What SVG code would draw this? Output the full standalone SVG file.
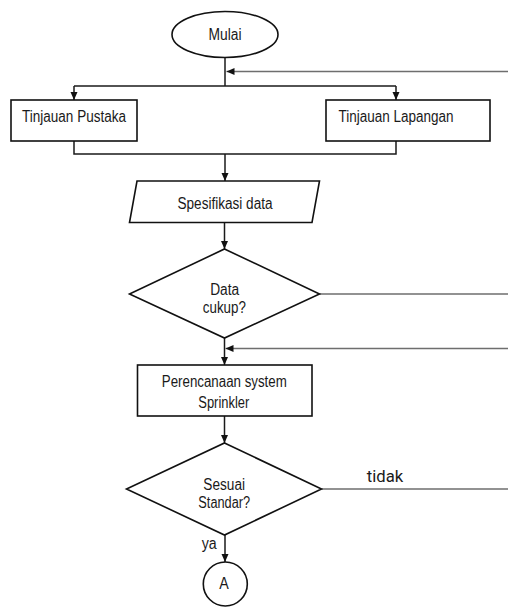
<svg xmlns="http://www.w3.org/2000/svg" width="508" height="607" viewBox="0 0 508 607">
<style>
.shape{fill:#fff;stroke:#111;stroke-width:1.6}
.conn{fill:none;stroke:#1a1a1a;stroke-width:1.5}
.back{fill:none;stroke:#6e6e6e;stroke-width:1.6}
.t{font-family:"Liberation Sans",Arial,sans-serif;font-size:16px;fill:#1a1a1a;text-anchor:middle}
.lbl{font-family:Roboto,"Liberation Sans",sans-serif;font-size:16.5px;fill:#1a1a1a;text-anchor:middle}
</style>
<defs>
<marker id="arr" markerUnits="userSpaceOnUse" markerWidth="9" markerHeight="8" refX="8" refY="3.5" orient="auto">
<path d="M0,0 L8,3.5 L0,7 z" fill="#111"/>
</marker>
</defs>
<g id="connectors">
<path class="conn" d="M225,57 V86"/>
<path class="back" d="M508,71.5 H226.5" marker-end="url(#arr)"/>
<path class="conn" d="M74,86 H396"/>
<path class="conn" d="M74,86 V100" marker-end="url(#arr)"/>
<path class="conn" d="M396,86 V100" marker-end="url(#arr)"/>
<path class="conn" d="M74,141 V154 H396 V141"/>
<path class="conn" d="M225,154 V181" marker-end="url(#arr)"/>
<path class="conn" d="M224.5,222.5 V249" marker-end="url(#arr)"/>
<path class="back" d="M319.5,294 H508"/>
<path class="conn" d="M224.5,338 V365" marker-end="url(#arr)"/>
<path class="back" d="M508,348.5 H225.5" marker-end="url(#arr)"/>
<path class="conn" d="M224.5,416 V443" marker-end="url(#arr)"/>
<path class="back" d="M321.5,489 H508"/>
<path class="conn" d="M225,535 V562" marker-end="url(#arr)"/>
<text class="lbl" x="385" y="481.5" textLength="36.5" lengthAdjust="spacingAndGlyphs">tidak</text>
<text class="t" x="209.2" y="548.5" textLength="15" lengthAdjust="spacingAndGlyphs">ya</text>
</g>
<g id="mulai">
<ellipse class="shape" cx="225" cy="34.5" rx="53" ry="23"/>
<text class="t" x="225" y="39.5" textLength="33" lengthAdjust="spacingAndGlyphs">Mulai</text>
</g>
<g id="tinjauan-pustaka">
<rect class="shape" x="11" y="100" width="126" height="41"/>
<text class="t" x="74" y="122" textLength="104" lengthAdjust="spacingAndGlyphs">Tinjauan Pustaka</text>
</g>
<g id="tinjauan-lapangan">
<rect class="shape" x="326" y="100" width="164" height="41"/>
<text class="t" x="396" y="122" textLength="115" lengthAdjust="spacingAndGlyphs">Tinjauan Lapangan</text>
</g>
<g id="spesifikasi-data">
<polygon class="shape" points="137,181 319.5,181 312,222.5 129.5,222.5"/>
<text class="t" x="225" y="209" textLength="95" lengthAdjust="spacingAndGlyphs">Spesifikasi data</text>
</g>
<g id="data-cukup">
<polygon class="shape" points="224.5,249 319.5,294 224.5,338 129.5,294"/>
<text class="t" x="224.7" y="295" textLength="29" lengthAdjust="spacingAndGlyphs">Data</text>
<text class="t" x="224.3" y="312.5" textLength="43" lengthAdjust="spacingAndGlyphs">cukup?</text>
</g>
<g id="perencanaan">
<rect class="shape" x="137.5" y="365" width="174.5" height="51"/>
<text class="t" x="224.3" y="386.5" textLength="125" lengthAdjust="spacingAndGlyphs">Perencanaan system</text>
<text class="t" x="223.8" y="407.5" textLength="51" lengthAdjust="spacingAndGlyphs">Sprinkler</text>
</g>
<g id="sesuai-standar">
<polygon class="shape" points="224.5,443 321.5,489 224.5,535 126.5,489"/>
<text class="t" x="224.2" y="490" textLength="41.7" lengthAdjust="spacingAndGlyphs">Sesuai</text>
<text class="t" x="224.2" y="508.3" textLength="51.7" lengthAdjust="spacingAndGlyphs">Standar?</text>
</g>
<g id="connector-a">
<circle class="shape" cx="225.3" cy="584" r="22"/>
<text class="t" x="224" y="588.5" textLength="9.5" lengthAdjust="spacingAndGlyphs">A</text>
</g>
</svg>
